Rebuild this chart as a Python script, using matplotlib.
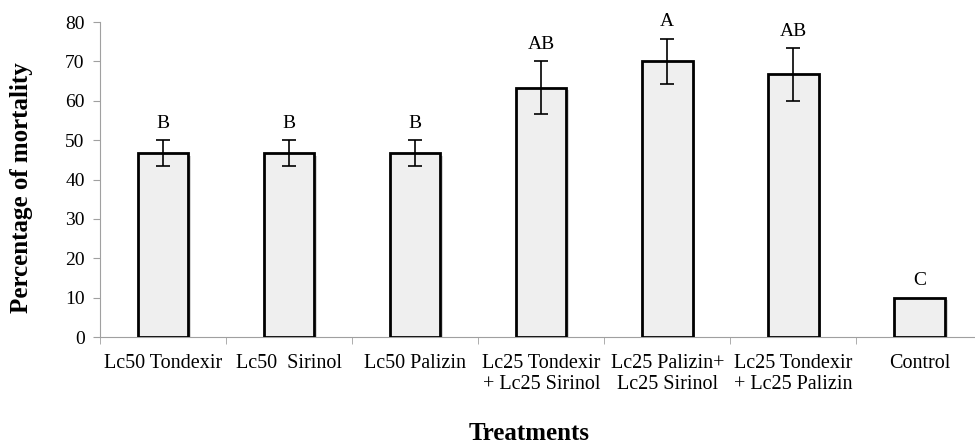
import numpy as np
import matplotlib
matplotlib.use("Agg")
import matplotlib.pyplot as plt
import matplotlib.patheffects as pe

plt.rcParams['font.family'] = ['Liberation Serif', 'DejaVu Serif']

# data
treatments = ["Lc50 Tondexir", "Lc50  Sirinol", "Lc50 Palizin",
              "Lc25 Tondexir\n+ Lc25 Sirinol", "Lc25 Palizin+\nLc25 Sirinol",
              "Lc25 Tondexir\n+ Lc25 Palizin", "Control"]
mortality = [46.67, 46.67, 46.67, 63.33, 70.0, 66.67, 10.0]
errors = [3.33, 3.33, 3.33, 6.67, 5.77, 6.67, 0.0]
letters = ["B", "B", "B", "AB", "A", "AB", "C"]

fig = plt.figure(figsize=(9.75, 4.45), dpi=100)
ax = fig.add_axes([100/975, 108/445, 1 - 100/975, 315/445])

x = np.arange(len(treatments))
bars = ax.bar(x, mortality, width=0.4, color="#efefef", edgecolor="black", linewidth=2, zorder=3)
for b in bars:
    b.set_path_effects([pe.SimplePatchShadow(offset=(2, -2), shadow_rgbFace="#888888", alpha=0.35), pe.Normal()])

# error bars (control has none)
for xi, m, e in zip(x, mortality, errors):
    if e > 0:
        ax.errorbar(xi, m, yerr=e, fmt="none", ecolor="black", elinewidth=1.2, capsize=5, capthick=1.2, zorder=4)

# significance letters
for xi, m, e, lt in zip(x, mortality, errors, letters):
    ax.annotate(lt, (xi, m + e), xytext=(0, 6), textcoords="offset points",
                ha="center", va="bottom", fontsize=14)

ax.set_xlim(-0.5, 6.44)
ax.set_ylim(0, 80)
ax.set_yticks(np.arange(0, 81, 10))
ax.set_xticks(x)
ax.set_xticklabels(treatments, fontsize=14.5, linespacing=1.2)
ax.set_xticks(np.arange(-0.5, 6.5, 1), minor=True)
ax.tick_params(axis="x", which="major", length=0, pad=12)
ax.tick_params(axis="x", which="minor", length=5, color="#a0a0a0")
ax.tick_params(axis="y", length=5, color="#a0a0a0", labelsize=14, pad=6)

for s in ["top", "right"]:
    ax.spines[s].set_visible(False)
for s in ["left", "bottom"]:
    ax.spines[s].set_color("#a0a0a0")

ax.set_ylabel("Percentage of mortality", fontsize=18, fontweight="bold")
ax.yaxis.set_label_coords(-0.077, 0.473)
fig.text(529/975, 1 - 434/445, "Treatments", ha="center", va="center", fontsize=18, fontweight="bold")

fig.savefig("out.png", dpi=100)
